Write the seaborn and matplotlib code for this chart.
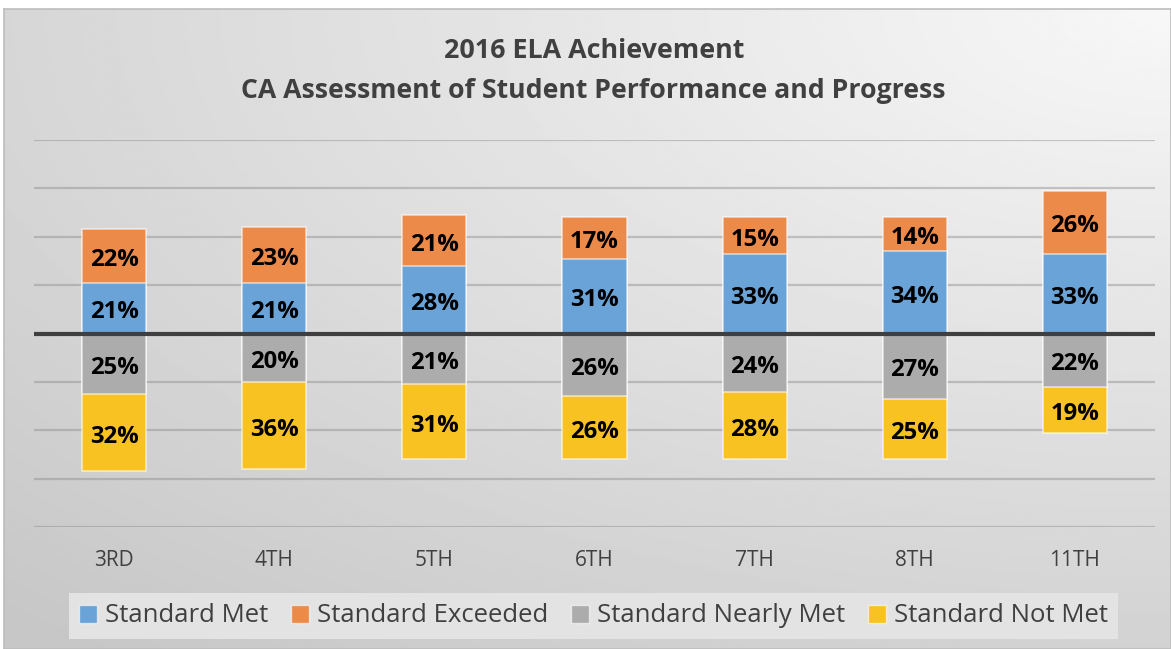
import numpy as np
import pandas as pd
import matplotlib
matplotlib.use("Agg")
import matplotlib.pyplot as plt
from matplotlib.patches import Patch
from matplotlib.transforms import offset_copy
import seaborn as sns

grades = ["3RD", "4TH", "5TH", "6TH", "7TH", "8TH", "11TH"]
met = [21, 21, 28, 31, 33, 34, 33]
exceeded = [22, 23, 21, 17, 15, 14, 26]
nearly_met = [25, 20, 21, 26, 24, 27, 22]
not_met = [32, 36, 31, 26, 28, 25, 19]

series = ["Standard Met", "Standard Exceeded", "Standard Nearly Met", "Standard Not Met"]
colors = {"Standard Met": "#6aa3d7", "Standard Exceeded": "#ec8a4a",
          "Standard Nearly Met": "#acacac", "Standard Not Met": "#f8c322"}

df = pd.DataFrame({"grade": grades, "met": met, "exceeded": exceeded,
                   "nearly": nearly_met, "notmet": not_met})
df["top"] = df["met"] + df["exceeded"]
df["bottom"] = -(df["nearly"] + df["notmet"])
df["neg_nearly"] = -df["nearly"]

sns.set_theme(style="white")
plt.rcParams["font.family"] = ["Open Sans", "DejaVu Sans"]

fig = plt.figure(figsize=(11.71, 6.49), dpi=100)
fig.patch.set_facecolor("white")

# gradient background
bg = fig.add_axes([4 / 1171, 0, 1 - 4 / 1171, 1 - 9 / 649])
yy, xx = np.mgrid[0:1:200j, 0:1:400j]
d = np.sqrt((1 - xx) ** 2 * 0.8 + (yy) ** 2)
grad = 0.97 - 0.19 * np.clip(d / 1.3, 0, 1)
bg.imshow(grad, cmap="gray", vmin=0, vmax=1, aspect="auto", extent=[0, 1, 0, 1], origin="upper")
bg.set_xticks([])
bg.set_yticks([])
for s in bg.spines.values():
    s.set_color("#bdbdbd")
    s.set_linewidth(1.2)

ax = fig.add_axes([34 / 1171, 1 - 527 / 649, 1121 / 1171, 387 / 649])
ax.patch.set_alpha(0)

edge = dict(edgecolor=(1, 1, 1, 0.6), linewidth=1.2, width=0.4, saturation=1)
sns.barplot(data=df, x="grade", y="top", color=colors["Standard Exceeded"], ax=ax, **edge)
sns.barplot(data=df, x="grade", y="met", color=colors["Standard Met"], ax=ax, **edge)
sns.barplot(data=df, x="grade", y="bottom", color=colors["Standard Not Met"], ax=ax, **edge)
sns.barplot(data=df, x="grade", y="neg_nearly", color=colors["Standard Nearly Met"], ax=ax, **edge)

ax.set_ylim(-80, 80)
ax.set_xlim(-0.5, len(grades) - 0.5)
for v in [-80, -60, -40, -20, 20, 40, 60, 80]:
    ax.axhline(v, color="#8c8c8c", alpha=0.45, linewidth=1.6, zorder=0)
ax.axhline(0, color="#3f3f3f", linewidth=3, zorder=5)

# labels sit a few pixels lower than the geometric centre
trans = offset_copy(ax.transData, fig=fig, x=0, y=-3, units="points")
lab = dict(ha="center", va="center", fontsize=17.2, fontweight="bold", color="black",
           zorder=6, transform=trans)
for i, r in df.iterrows():
    ax.text(i, r["met"] / 2, f"{r['met']}%", **lab)
    ax.text(i, r["met"] + r["exceeded"] / 2, f"{r['exceeded']}%", **lab)
    ax.text(i, -r["nearly"] / 2, f"{r['nearly']}%", **lab)
    ax.text(i, -r["nearly"] - r["notmet"] / 2, f"{r['notmet']}%", **lab)

ax.set_yticks([])
ax.set_xlabel("")
ax.set_ylabel("")
ax.tick_params(axis="x", length=0, pad=16.5, labelsize=15, labelcolor="#404040")
for s in ax.spines.values():
    s.set_visible(False)

fig.text(0.507, 1 - 51 / 649, "2016 ELA Achievement", ha="center", va="center",
         fontsize=19.4, fontweight="bold", color="#404040")
fig.text(0.507, 1 - 91 / 649, "CA Assessment of Student Performance and Progress", ha="center",
         va="center", fontsize=19.2, fontweight="bold", color="#404040")

handles = [Patch(facecolor=colors[s], edgecolor=(1, 1, 1, 0.6)) for s in series]
leg = fig.legend(handles, series, loc="center", bbox_to_anchor=(0.507, 1 - 616 / 649), ncol=4,
                 frameon=True, fancybox=False, fontsize=18.5, handlelength=0.7, handleheight=0.7,
                 handletextpad=0.3, columnspacing=0.9, borderpad=0.4)
leg.get_frame().set_facecolor("#e3e3e3")
leg.get_frame().set_edgecolor("none")
leg.get_frame().set_alpha(1)
for t in leg.get_texts():
    t.set_color("#404040")

fig.savefig("out.png", dpi=100)
